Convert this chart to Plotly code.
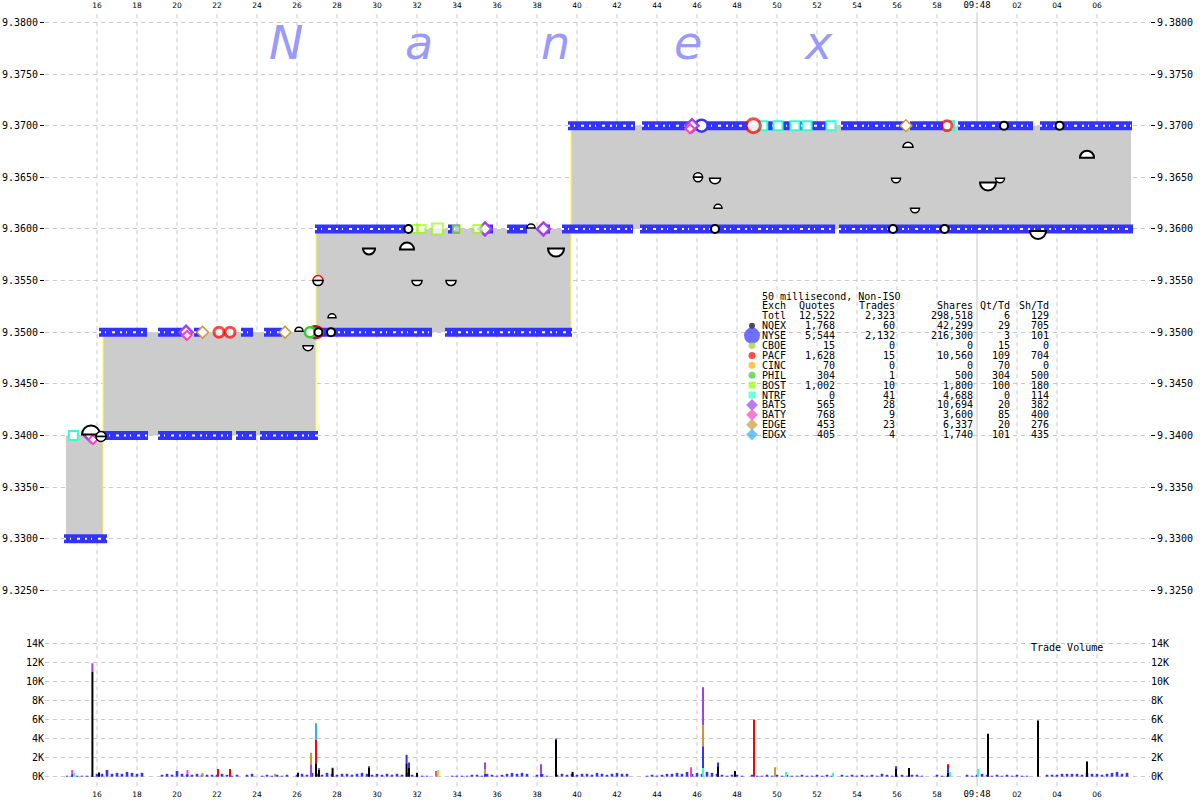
import plotly.graph_objects as go

# ---------------- tick data ----------------
sec_tickvals = [16, 18, 20, 22, 24, 26, 28, 30, 32, 34, 36, 38, 40, 42, 44, 46, 48, 50, 52, 54, 56, 58, 60, 62, 64, 66]
sec_ticktext = ["16", "18", "20", "22", "24", "26", "28", "30", "32", "34", "36", "38", "40", "42", "44",
                "46", "48", "50", "52", "54", "56", "58",
                "<span style='font-family:DejaVu Sans Mono;font-size:9px'>09:48</span>", "02", "04", "06"]
price_tickvals = [9.325, 9.330, 9.335, 9.340, 9.345, 9.350, 9.355, 9.360, 9.365, 9.370, 9.375, 9.380]
price_ticktext = ["9.3250", "9.3300", "9.3350", "9.3400", "9.3450", "9.3500", "9.3550", "9.3600",
                  "9.3650", "9.3700", "9.3750", "9.3800"]
vol_tickvals = [0, 2000, 4000, 6000, 8000, 10000, 12000, 14000]
vol_ticktext = ["0K", "2K", "4K", "6K", "8K", "10K", "12K", "14K"]

# ---------------- NBBO spread (seconds after 09:47:00) ----------------
nbbo_start = [14.45, 16.3, 26.95, 39.7]
nbbo_end = [16.3, 26.95, 39.7, 67.7]
nbbo_bid = [9.33, 9.34, 9.35, 9.36]
nbbo_ask = [9.34, 9.35, 9.36, 9.37]

# ---------------- NYSE quote runs (price, start, end) ----------------
nyse_quote_runs = [
    (9.33, 14.35, 16.5),
    (9.34, 16.3, 18.55), (9.34, 19.05, 22.75), (9.34, 22.95, 23.95), (9.34, 24.15, 27.05),
    (9.35, 16.1, 18.5), (9.35, 19.05, 20.25), (9.35, 20.85, 21.2), (9.35, 23.2, 23.8), (9.35, 24.35, 25.25),
    (9.35, 27.0, 32.75), (9.35, 33.4, 39.75),
    (9.36, 26.9, 31.4), (9.36, 33.55, 34.15), (9.36, 35.55, 35.8), (9.36, 36.5, 37.5), (9.36, 38.3, 38.65),
    (9.36, 39.25, 42.8), (9.36, 43.15, 52.9), (9.36, 53.1, 67.8),
    (9.37, 39.55, 42.9), (9.37, 43.25, 48.55), (9.37, 49.1, 52.95), (9.37, 53.2, 56.35),
    (9.37, 56.65, 58.3), (9.37, 59.05, 62.8), (9.37, 63.15, 67.75),
]

# ---------------- other exchange quote markers ----------------
ntrf_q_t = [14.82, 49.29, 50.05, 50.9, 51.5, 52.7, 58.63]
ntrf_q_p = [9.34, 9.37, 9.37, 9.37, 9.37, 9.37, 9.37]
bats_q_t = [15.68, 20.45, 35.4, 38.32, 45.75]
bats_q_p = [9.34, 9.35, 9.36, 9.36, 9.37]
baty_q_t = [15.8, 20.5, 45.65]
baty_q_p = [9.3396, 9.3497, 9.3697]
edge_q_t = [21.28, 25.4, 26.75, 56.45]
edge_q_p = [9.35, 9.35, 9.35, 9.37]
pacf_q_t = [22.1, 22.65, 27.0, 48.82, 58.5]
pacf_q_p = [9.35, 9.35, 9.35, 9.37, 9.37]
bost_q_t = [31.82, 32.23, 33.02, 33.98, 35.02]
bost_q_p = [9.36, 9.36, 9.36, 9.36, 9.36]
phil_q_t = [26.65]
phil_q_p = [9.35]
nqex_q_t = [27.07, 27.7, 31.57, 46.9, 55.8, 58.38, 61.35, 64.13]
nqex_q_p = [9.35, 9.35, 9.36, 9.36, 9.36, 9.36, 9.37, 9.37]
nyse_big_t = [26.9, 46.23]
nyse_big_p = [9.35, 9.37]

# ---------------- trades (time, price, size px, kind) ----------------
trades = [
    (15.7, 9.3401, 9, "up"), (16.2, 9.3399, 5, "circle"),
    (26.1, 9.3501, 4, "up"), (26.55, 9.3487, 5, "down"), (27.05, 9.3550, 5, "circle_red"),
    (27.75, 9.3514, 4, "up"), (29.6, 9.3581, 6, "down"), (31.5, 9.3580, 7, "up"),
    (32.0, 9.3550, 5, "down"), (33.7, 9.3550, 5, "down"), (37.7, 9.3601, 4, "up"),
    (38.95, 9.3581, 8, "down"), (46.05, 9.3650, 4.5, "circle"), (46.9, 9.3649, 5.5, "down"),
    (47.05, 9.3620, 4, "up"), (55.95, 9.3649, 4.5, "down"), (56.55, 9.3679, 5, "up"),
    (56.9, 9.3620, 4.5, "down"), (60.55, 9.3645, 8, "down"), (61.15, 9.3649, 4.5, "down"),
    (63.05, 9.3598, 8, "down"), (65.5, 9.3669, 7, "up"),
]

# ---------------- NYSE volume, hundreds of shares per quarter second ----------------
nyse_vol_first_sec = 14
nyse_vol_hundreds = [
    [0, 0, 1, 1], [1, 1, 1, 1], [3, 3, 7, 3], [4, 3, 5, 4], [3, 4, 0, 0], [0, 2, 3, 2],
    [6, 3, 2, 2], [3, 2, 2, 2], [2, 3, 2, 1], [2, 0, 2, 3], [0, 1, 2, 1], [2, 1, 2, 0],
    [2, 3, 2, 4], [3, 2, 4, 3], [2, 3, 3, 2], [3, 4, 3, 2], [3, 2, 3, 2], [3, 2, 4, 2],
    [1, 1, 1, 0], [0, 0, 0, 1], [1, 1, 1, 2], [2, 1, 3, 2], [1, 2, 3, 4], [3, 4, 3, 0],
    [2, 3, 1, 0], [2, 3, 2, 3], [2, 3, 3, 2], [4, 3, 2, 3], [4, 3, 3, 0], [0, 0, 1, 2],
    [1, 2, 3, 3], [4, 3, 5, 3], [4, 3, 5, 4], [3, 2, 1, 2], [2, 1, 0, 2], [1, 1, 2, 1],
    [2, 1, 2, 1], [1, 2, 1, 1], [2, 1, 2, 1], [0, 2, 1, 2], [1, 2, 1, 2], [1, 3, 2, 1],
    [1, 2, 1, 2], [2, 1, 0, 0], [2, 1, 1, 0], [0, 0, 2, 1], [2, 3, 2, 1], [2, 1, 2, 1],
    [2, 1, 1, 0], [0, 0, 2, 2], [2, 3, 3, 3], [3, 2, 4, 3], [3, 2, 3, 4], [5, 3, 4, 0],
]

# ---------------- volume spikes (time, [(exchange, shares)...]) bottom-up ----------------
volume_spikes = [
    (14.76, [("NYSE", 300), ("BATY", 400)]), (14.86, [("NTRF", 400)]),
    (15.77, [("NQEX", 11000), ("BATS", 900)]), (16.1, [("NQEX", 450)]),
    (20.52, [("NYSE", 300), ("BATY", 400)]), (21.27, [("EDGE", 400)]),
    (22.05, [("PACF", 800)]), (22.65, [("PACF", 800)]), (24.9, [("EDGE", 300)]),
    (26.05, [("NQEX", 400)]), (26.7, [("BATS", 1300), ("EDGE", 1200)]),
    (26.95, [("NQEX", 1400), ("PACF", 2500), ("EDGX", 1700)]),
    (27.1, [("NQEX", 700), ("BATS", 200)]), (27.78, [("NQEX", 900), ("NTRF", 100)]),
    (29.6, [("NQEX", 900), ("NYSE", 200)]), (31.48, [("NQEX", 1400), ("NYSE", 900)]),
    (31.6, [("NQEX", 900), ("NYSE", 600)]), (32.0, [("NQEX", 400)]),
    (32.95, [("BATY", 600)]), (33.05, [("BOST", 700)]),
    (35.4, [("NYSE", 300), ("EDGE", 500), ("BATS", 700)]), (38.2, [("NYSE", 300), ("BATS", 1000)]),
    (38.95, [("NQEX", 3900), ("NYSE", 100)]), (39.78, [("NQEX", 500)]),
    (45.7, [("BATY", 1000)]),
    (46.3, [("NTRF", 900), ("NYSE", 2300), ("EDGE", 2200), ("BATS", 4000)]),
    (47.05, [("NQEX", 1100), ("NYSE", 400)]), (47.9, [("NQEX", 600)]),
    (48.85, [("PACF", 6000)]), (49.9, [("EDGE", 1000)]), (50.45, [("NTRF", 500)]),
    (52.8, [("NTRF", 400)]), (55.95, [("NQEX", 800), ("NYSE", 300)]), (56.6, [("NQEX", 900)]),
    (58.55, [("NQEX", 400), ("NYSE", 500), ("PACF", 400)]), (58.65, [("NTRF", 500)]),
    (60.05, [("NTRF", 800)]), (60.55, [("NQEX", 4500)]), (63.05, [("NQEX", 5900)]),
    (65.5, [("NQEX", 1600)]),
]

# ---------------- summary table ----------------
table_exch = ["Totl", "NQEX", "NYSE", "CBOE", "PACF", "CINC", "PHIL", "BOST", "NTRF", "BATS", "BATY", "EDGE", "EDGX"]
table_quotes = [12522, 1768, 5544, 15, 1628, 70, 304, 1002, 0, 565, 768, 453, 405]
table_trades = [2323, 60, 2132, 0, 15, 0, 1, 10, 41, 28, 9, 23, 4]
table_shares = [298518, 42299, 216300, 0, 10560, 0, 500, 1800, 4688, 10694, 3600, 6337, 1740]
table_qt_td = [6, 29, 3, 15, 109, 70, 304, 100, 0, 20, 85, 20, 101]
table_sh_td = [129, 705, 101, 0, 704, 0, 500, 180, 114, 382, 400, 276, 435]

exch_colors = {
    "NQEX": "#000000", "NYSE": "#3333ff", "CBOE": "#99cc33", "PACF": "#ff0000", "CINC": "#ffaa00",
    "PHIL": "#33cc33", "BOST": "#99ff00", "NTRF": "#33ffcc", "BATS": "#a040f0", "BATY": "#ff40c0",
    "EDGE": "#cc9933", "EDGX": "#33aaff",
}
exch_symbols = {
    "NQEX": ("circle", 6), "NYSE": ("circle", 16), "CBOE": ("circle", 7), "PACF": ("circle", 7),
    "CINC": ("circle", 7), "PHIL": ("circle", 7), "BOST": ("square", 7), "NTRF": ("square", 7),
    "BATS": ("diamond", 9), "BATY": ("diamond", 9), "EDGE": ("diamond", 9), "EDGX": ("diamond", 9),
}

# ---------------- layout geometry ----------------
W, H = 1200, 800
ML, MR, MT, MB = 45, 50, 10, 20
X_RANGE = [13.4, 68.65]
PRICE_RANGE = [9.3238, 9.3812]
VOL_RANGE = [-350, 15000]
plot_h = H - MT - MB
price_dom = [(H - MB - 602.8) / plot_h, 1.0]
vol_dom = [0.0, (H - MB - 633.8) / plot_h]
px_per_sec = (W - ML - MR) / (X_RANGE[1] - X_RANGE[0])
px_per_dollar = (price_dom[1] - price_dom[0]) * plot_h / (PRICE_RANGE[1] - PRICE_RANGE[0])

fig = go.Figure()

# spread fill
fx, fy = [], []
for s, e, b, a in zip(nbbo_start, nbbo_end, nbbo_bid, nbbo_ask):
    fx += [s, e, e, s, s, None]
    fy += [b, b, a, a, b, None]
fig.add_trace(go.Scatter(x=fx, y=fy, fill="toself", fillcolor="#cccccc", mode="lines",
                         line=dict(width=0, color="#cccccc"), hoverinfo="skip", xaxis="x", yaxis="y"))

# yellow transition lines
yx, yy = [], []
for i in range(1, len(nbbo_start)):
    yx += [nbbo_start[i], nbbo_start[i], None]
    yy += [nbbo_bid[i - 1], nbbo_ask[i], None]
fig.add_trace(go.Scatter(x=yx, y=yy, mode="lines", line=dict(width=1, color="#ffff33"),
                         hoverinfo="skip", xaxis="x", yaxis="y"))

# NYSE quote runs
rx, ry = [], []
for p, s, e in nyse_quote_runs:
    rx += [s, e, None]
    ry += [p, p, None]
fig.add_trace(go.Scatter(x=rx, y=ry, mode="lines", line=dict(width=9, color="#3333ff"),
                         hoverinfo="skip", xaxis="x", yaxis="y"))
fig.add_trace(go.Scatter(x=rx, y=ry, mode="lines",
                         line=dict(width=2, color="white", dash="2px,4px,1px,6px,3px,5px"),
                         hoverinfo="skip", xaxis="x", yaxis="y"))


def quote_markers(t, p, color, symbol, size, lw=2, fill="white"):
    fig.add_trace(go.Scatter(x=t, y=p, mode="markers", hoverinfo="skip", xaxis="x", yaxis="y",
                             marker=dict(symbol=symbol, size=size, color=fill,
                                         line=dict(color=color, width=lw))))


quote_markers(nyse_big_t, nyse_big_p, exch_colors["NYSE"], "circle", 12, 2.5)
quote_markers(ntrf_q_t, ntrf_q_p, exch_colors["NTRF"], "square", 9, 2)
quote_markers(bats_q_t, bats_q_p, exch_colors["BATS"], "diamond", 10, 2.5)
quote_markers(baty_q_t, baty_q_p, exch_colors["BATY"], "diamond", 7, 2)
quote_markers(edge_q_t, edge_q_p, exch_colors["EDGE"], "diamond", 9, 1.5)
quote_markers(pacf_q_t, pacf_q_p, exch_colors["PACF"], "circle", [10, 10, 11, 14, 10], 3)
quote_markers(bost_q_t, bost_q_p, exch_colors["BOST"], "square", [8, 8, 11, 7, 8], 2)
quote_markers(phil_q_t, phil_q_p, exch_colors["PHIL"], "circle", 10, 2.5)
quote_markers(nqex_q_t, nqex_q_p, exch_colors["NQEX"], "circle", 8, 2)

# trade half-disc shapes
shapes = []


def half_path(t, p, r, up):
    rxs = r / px_per_sec
    rys = (r / px_per_dollar) * (1 if up else -1)
    k = 0.5523
    return (f"M {t - rxs},{p} C {t - rxs},{p + k * rys} {t - k * rxs},{p + rys} {t},{p + rys} "
            f"C {t + k * rxs},{p + rys} {t + rxs},{p + k * rys} {t + rxs},{p} Z")


for t, p, r, kind in trades:
    lw = 2 if r >= 6 else 1.5
    if kind in ("up", "circle", "circle_red"):
        col = "#ff0000" if kind == "circle_red" else "black"
        shapes.append(dict(type="path", path=half_path(t, p, r, True), xref="x", yref="y",
                           fillcolor="white", line=dict(color=col, width=lw)))
    if kind in ("down", "circle", "circle_red"):
        shapes.append(dict(type="path", path=half_path(t, p, r, False), xref="x", yref="y",
                           fillcolor="white", line=dict(color="black", width=lw)))

# ---------------- volume ----------------
bx, by = [], []
for i, quarter in enumerate(nyse_vol_hundreds):
    for q, v in enumerate(quarter):
        if v > 0:
            bx.append(nyse_vol_first_sec + i + 0.25 * q)
            by.append(v * 100)
fig.add_trace(go.Bar(x=bx, y=by, width=0.13, marker=dict(color=exch_colors["NYSE"], line=dict(width=0)),
                     hoverinfo="skip", xaxis="x2", yaxis="y2"))

seg = {}
for t, parts in volume_spikes:
    base = 0
    for ex, v in parts:
        seg.setdefault(ex, ([], [], []))
        seg[ex][0].append(t)
        seg[ex][1].append(v)
        seg[ex][2].append(base)
        base += v
for ex, (xs, ys, bs) in seg.items():
    fig.add_trace(go.Bar(x=xs, y=ys, base=bs, width=0.1,
                         marker=dict(color=exch_colors[ex], line=dict(width=0)),
                         hoverinfo="skip", xaxis="x2", yaxis="y2"))

# dummy traces so the right-hand axes render
fig.add_trace(go.Scatter(x=[30], y=[9.35], mode="markers", marker=dict(opacity=0), hoverinfo="skip",
                         xaxis="x", yaxis="y3"))
fig.add_trace(go.Scatter(x=[30], y=[100], mode="markers", marker=dict(opacity=0), hoverinfo="skip",
                         xaxis="x2", yaxis="y4"))

# ---------------- table legend markers (pixel overlay) ----------------
row0_y = 296
row_step = 9.9
leg_x, leg_y, leg_c, leg_s, leg_z = [], [], [], [], []
for j, ex in enumerate(table_exch[1:]):
    leg_x.append(752)
    leg_y.append(row0_y + row_step * (3 + j))
    leg_c.append(exch_colors[ex])
    leg_s.append(exch_symbols[ex][0])
    leg_z.append(exch_symbols[ex][1])
fig.add_trace(go.Scatter(x=leg_x, y=leg_y, mode="markers", hoverinfo="skip", xaxis="x3", yaxis="y5",
                         marker=dict(color=leg_c, symbol=leg_s, size=leg_z, line=dict(width=0))))

# ---------------- grid shapes ----------------
for v in sec_tickvals:
    shapes.append(dict(type="line", xref="x", yref="paper", x0=v, x1=v, y0=-0.008, y1=0.997, layer="below",
                       line=dict(color="#c8c8c8", width=1, dash="solid" if v == 60 else "4px,4px")))

# ---------------- annotations ----------------
mono = "DejaVu Sans Mono"
ann = []


def txt(x, y, s, anchor="left", size=10, color="black", family=mono, style="normal"):
    ann.append(dict(x=x, y=y, xref="x3", yref="y5", text=s, showarrow=False, xanchor=anchor,
                    yanchor="middle", font=dict(family=family, size=size, color=color, style=style)))


txt(760, row0_y, "50 millisecond, Non-ISO")
hdr_y = row0_y + row_step
txt(760, hdr_y, "Exch")
col_right = [837, 897, 975, 1012, 1051]
for xr, h in zip(col_right, ["Quotes", "Trades", "Shares", "Qt/Td", "Sh/Td"]):
    txt(xr, hdr_y, h, "right")
for j, ex in enumerate(table_exch):
    y = row0_y + row_step * (2 + j)
    txt(760, y, ex)
    vals = [table_quotes[j], table_trades[j], table_shares[j], table_qt_td[j], table_sh_td[j]]
    for xr, v in zip(col_right, vals):
        txt(xr, y, f"{v:,}", "right")

txt(1067, 647, "Trade Volume", "center")

for letter, lx in zip(["N", "a", "n", "e", "x"], [286, 419, 555, 688, 818]):
    txt(lx, 43, letter, "center", size=46, color="#9999ff", family="DejaVu Sans", style="italic")

axis_font = dict(family=mono, size=10, color="black")
xfont = dict(family="DejaVu Sans", size=7.5, color="black")

fig.update_layout(
    template="none",
    width=W, height=H,
    margin=dict(l=ML, r=MR, t=MT, b=MB, autoexpand=False),
    paper_bgcolor="white", plot_bgcolor="rgba(0,0,0,0)",
    showlegend=False, barmode="overlay",
    shapes=shapes, annotations=ann,
    xaxis=dict(domain=[0, 1], range=X_RANGE, anchor="y", side="top", tickvals=sec_tickvals,
               ticktext=sec_ticktext, tickfont=xfont, showgrid=False, zeroline=False, showline=False,
               ticks="", ticklabelstandoff=0, automargin=False),
    xaxis2=dict(domain=[0, 1], range=X_RANGE, anchor="y2", side="bottom", matches="x",
                tickvals=sec_tickvals, ticktext=sec_ticktext, tickfont=xfont, showgrid=False,
                zeroline=False, showline=False, ticks="", ticklabelstandoff=8, automargin=False),
    xaxis3=dict(domain=[0, 1], range=[ML, W - MR], anchor="y5", visible=False, automargin=False),
    yaxis=dict(domain=price_dom, range=PRICE_RANGE, anchor="x", side="left", tickvals=price_tickvals,
               ticktext=price_ticktext, tickfont=axis_font, showgrid=True, gridcolor="#c8c8c8",
               griddash="4px,4px", gridwidth=1, zeroline=False, showline=False, ticks="outside", ticklen=4,
               tickcolor="black", automargin=False),
    yaxis3=dict(overlaying="y", range=PRICE_RANGE, anchor="x", side="right", tickvals=price_tickvals,
                ticktext=price_ticktext, tickfont=axis_font, showgrid=False, zeroline=False,
                showline=False, ticks="outside", ticklen=4, tickcolor="black", automargin=False),
    yaxis2=dict(domain=vol_dom, range=VOL_RANGE, anchor="x2", side="left", tickvals=vol_tickvals,
                ticktext=vol_ticktext, tickfont=axis_font, showgrid=True, gridcolor="#c8c8c8",
                griddash="4px,4px", gridwidth=1, zeroline=False, showline=False, ticks="", automargin=False),
    yaxis4=dict(overlaying="y2", range=VOL_RANGE, anchor="x2", side="right", tickvals=vol_tickvals,
                ticktext=vol_ticktext, tickfont=axis_font, showgrid=False, zeroline=False,
                showline=False, ticks="", automargin=False),
    yaxis5=dict(domain=[0, 1], range=[H - MB, MT], anchor="x3", visible=False, automargin=False),
)

fig.write_html("out.html", config={"displayModeBar": False, "staticPlot": True},
               post_script="document.body.style.margin='0px';document.body.style.padding='0px';document.body.style.overflow='hidden';")
